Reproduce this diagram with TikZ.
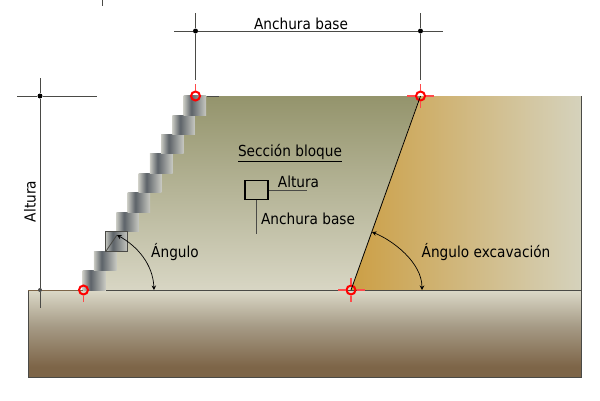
\documentclass[tikz,border=0pt]{standalone}
\usepackage{xcolor}
\usepackage{fontspec}
\setmainfont{DejaVu Sans}[FakeStretch=0.9]
\definecolor{Fill Top}{HTML}{94946c}
\definecolor{Fill Low}{HTML}{d8d6c4}
\definecolor{Cut Left}{HTML}{cc9f45}
\definecolor{Cut Right}{HTML}{d5d2bc}
\definecolor{Soil Top}{HTML}{dcd9c8}
\definecolor{Soil Mid}{HTML}{a59a85}
\definecolor{Soil Low}{HTML}{7d6548}
\definecolor{Line Gray}{HTML}{4a4a46}
\definecolor{Block Light}{HTML}{c8c9c2}
\definecolor{Block Dark}{HTML}{5c6268}
\definecolor{Mark Pale}{HTML}{ff4a4a}
\colorlet{cMark}{red}
\usepackage{tikz}
\usetikzlibrary{calc, positioning, arrows.meta}
\pgfdeclarehorizontalshading{block shade}{100bp}{color(0bp)=(Block Light); color(25bp)=(Block Light); color(42bp)=(Block Dark); color(75bp)=(Block Light); color(100bp)=(Block Light)}
\pgfdeclareverticalshading{soil shade}{100bp}{color(0bp)=(Soil Low); color(31bp)=(Soil Low); color(54bp)=(Soil Mid); color(75bp)=(Soil Top); color(100bp)=(Soil Top)}
\tikzset{
	>={Stealth[length=4.5pt,width=4.5pt]},
	font = \fontsize{15.2}{18}\selectfont,
	block/.style={
		inner sep=0pt,
		outer sep=0pt,
		minimum width=22.6pt,
		minimum height=19.45pt,
		shade,
		shading=block shade
	},
	dimline/.style={
		draw=Line Gray,
		line width=1pt
	},
	dimdot/.style={
		circle,
		fill=black,
		inner sep=0pt,
		minimum size=5pt
	},
	mark ring/.style={
		circle,
		draw=cMark,
		line width=2pt,
		inner sep=0pt,
		minimum size=9pt
	},
	mark line/.style={
		draw=Mark Pale,
		line width=1.1pt
	},
	angle arc/.style={
		<->,
		line width=.7pt
	},
	label/.style={
		inner sep=0pt
	}
}

\begin{document}
\begin{tikzpicture}[x=1pt, y=-1pt]
\useasboundingbox (0,0) rectangle (600,400);
% ---
% fill, cut and soil
% ---
\path[top color=Fill Top, bottom color=Fill Low] (195,96) -- (420,96) -- (351,290) -- (94,290) -- cycle;
\path[left color=Cut Left, right color=Cut Right] (420,96) -- (581,96) -- (581,290) -- (351,290) -- cycle;
\path[shade, shading=soil shade] (28,290) rectangle (581,377);
% ---
% blocks
% ---
\node[block] at (94,280.4) (b0) {};
\node[block, above=0pt of b0, xshift=11.2pt] (b1) {};
\node[block, above=0pt of b1, xshift=11.2pt] (b2) {};
\node[block, above=0pt of b2, xshift=11.2pt] (b3) {};
\node[block, above=0pt of b3, xshift=11.2pt] (b4) {};
\node[block, above=0pt of b4, xshift=11.2pt] (b5) {};
\node[block, above=0pt of b5, xshift=11.2pt] (b6) {};
\node[block, above=0pt of b6, xshift=11.2pt] (b7) {};
\node[block, above=0pt of b7, xshift=11.2pt] (b8) {};
\node[block, above=0pt of b8, xshift=11.2pt] (b9) {};
\node[draw=Line Gray, line width=.8pt, inner sep=0pt, minimum width=22.6pt, minimum height=19.45pt] at (b2) (angle box) {};
% ---
% soil outline
% ---
\coordinate (soil tl) at (28,290);
\coordinate (soil bl) at (28,377);
\coordinate (soil br) at (581,377);
\coordinate (cut tr) at (581,96);
\coordinate (ground a) at (106,290);
\coordinate (ground b) at (581,290);
\coordinate (top tick) at (219,96);

\draw[Line Gray, line width=1pt] (soil tl) -- (soil bl) -- (soil br) -- (cut tr);
\draw[Line Gray, line width=1pt] (ground a) -- (ground b);
\draw[Soil Low, line width=1pt] (soil tl) -- (83,290);
\draw[Line Gray, line width=1pt] (207,96) -- (top tick);
% ---
% marks
% ---
\node[mark ring] at (195.5,96) (m0) {};
\node[mark ring] at (420.5,96) (m1) {};
\node[mark ring] at (83.5,290) (m2) {};
\node[mark ring] at (351,290) (m3) {};

\draw[black, line width=.8pt] (m3.center) -- (m1.center);
\draw[mark line] (195.5,84) -- (m0);
\draw[mark line] (420.5,84) -- (m1);
\draw[mark line] (m1) -- (420.5,108);
\draw[mark line] (407,96) -- (m1);
\draw[mark line] (m1) -- (434,96);
\draw[mark line] (m2) -- (83.5,302);
\draw[mark line] (351,278) -- (m3);
\draw[mark line] (m3) -- (351,302);
\draw[mark line] (338,290) -- (m3);
\draw[mark line] (m3) -- (365,290);
% ---
% dimensions
% ---
\node[dimdot] at (195.5,31) (d0) {};
\node[dimdot] at (420.5,31) (d1) {};
\node[dimdot] at (40,96) (d2) {};
\node[dimdot, minimum size=4pt, fill=black!70] at (40,290) (d3) {};

\draw[dimline] (174,31) -- (d0) -- (d1) -- (443,31);
\draw[dimline] (195.5,13) -- (d0) -- (195.5,80);
\draw[dimline] (420.5,13) -- (d1) -- (420.5,80);
\draw[dimline] (17,96) -- (d2) -- (97,96);
\draw[dimline] (40,78) -- (d2) -- (d3) -- (40,308);
\draw[dimline] (102,0) -- (102,6);
% ---
% section key
% ---
\node[draw=black, line width=1.5pt, inner sep=0pt, minimum width=23pt, minimum height=19pt] at (256.5,190) (key) {};
\coordinate (key r) at (307,190);
\coordinate (key b) at (256.5,234);

\draw[dimline] (key) -- (key r);
\draw[dimline] (key) -- (key b);
% ---
% angles
% ---
\coordinate (a0) at (117,235);
\coordinate (a1) at (154,290);
\coordinate (a2) at (372,232);
\coordinate (a3) at (422,290);

\draw[Line Gray, line width=.8pt] (105.8,251.4) -- (a0);
\draw[angle arc] (a0) .. controls (137,246) and (153,264) .. (a1);
\draw[angle arc] (a2) .. controls (392,240) and (422,262) .. (a3);
% ---
% labels
% ---
\node[label] at (301,23.5) (l0) {Anchura base};
\node[label, rotate=90] at (30,201.5) (l1) {Altura};
\node[label] at (290,153) (l2) {\underline{Sección bloque}};
\node[label] at (298.5,181.5) (l3) {Altura};
\node[label] at (308,218.5) (l4) {Anchura base};
\node[label] at (175,252.5) (l5) {Ángulo};
\node[label] at (486,252.5) (l6) {Ángulo excavación};
\end{tikzpicture}
\end{document}
